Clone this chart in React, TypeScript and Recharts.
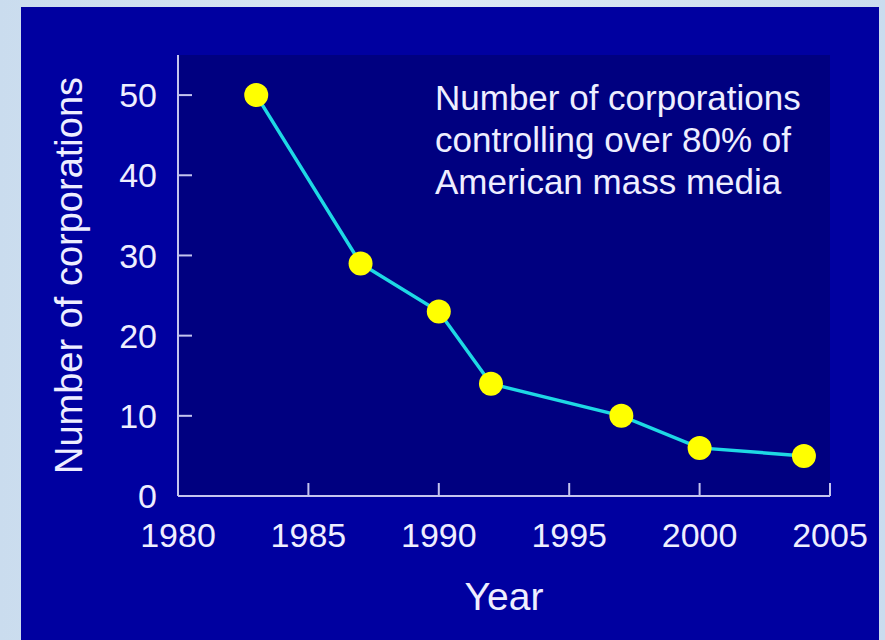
import React from 'react'
import { LineChart, Line, XAxis, YAxis, CartesianGrid } from 'recharts'

const years = [1983, 1987, 1990, 1992, 1997, 2000, 2004]
const corporations = [50, 29, 23, 14, 10, 6, 5]
const xTicks = [1980, 1985, 1990, 1995, 2000, 2005]
const yTicks = [0, 10, 20, 30, 40, 50]
const noteLines = [
  'Number of corporations',
  'controlling over 80% of',
  'American mass media',
]

const data = years.map((year, i) => ({ year, count: corporations[i] }))

const font = '"Liberation Sans", Arial, sans-serif'
const textColor = '#eeeeff'
const axisColor = '#c4c4ee'

export default function App() {
  return (
    <div
      style={{
        position: 'absolute',
        left: 0,
        top: 0,
        width: 885,
        height: 640,
        overflow: 'hidden',
        background: 'linear-gradient(90deg, #cadcee 0%, #dde9f5 50%, #cadcee 100%)',
        fontFamily: font,
      }}
    >
      <div
        style={{
          position: 'absolute',
          left: 21,
          top: 7,
          width: 858,
          height: 633,
          background: '#0000a0',
        }}
      />
      <div style={{ position: 'absolute', left: 0, top: 0 }}>
        <LineChart
          width={885}
          height={640}
          data={data}
          margin={{ top: 55, right: 55, left: 48, bottom: 20 }}
          style={{ fontFamily: font }}
        >
          <CartesianGrid fill="#000080" horizontal={false} vertical={false} />
          <XAxis
            dataKey="year"
            type="number"
            domain={[1980, 2005]}
            ticks={xTicks}
            height={124}
            tickSize={-13}
            tickMargin={40}
            stroke={axisColor}
            strokeWidth={2}
            tick={{ fill: textColor, fontSize: 34 }}
            label={{
              value: 'Year',
              position: 'insideBottom',
              offset: 10,
              fill: textColor,
              fontSize: 39,
            }}
          />
          <YAxis
            type="number"
            domain={[0, 55]}
            ticks={yTicks}
            width={130}
            tickSize={-14}
            tickMargin={35}
            stroke={axisColor}
            strokeWidth={2}
            tick={{ fill: textColor, fontSize: 34 }}
            label={{
              value: 'Number of corporations',
              angle: -90,
              position: 'insideLeft',
              offset: 21,
              fill: textColor,
              fontSize: 38,
              style: { textAnchor: 'middle' },
            }}
          />
          <Line
            type="linear"
            dataKey="count"
            stroke="#1ed8e4"
            strokeWidth={3.5}
            dot={{ r: 12, fill: '#ffff00', stroke: 'none' }}
            activeDot={false}
            isAnimationActive={false}
          />
        </LineChart>
      </div>
      <div
        style={{
          position: 'absolute',
          left: 435,
          top: 77,
          fontSize: 35,
          lineHeight: '42px',
          color: textColor,
          whiteSpace: 'nowrap',
        }}
      >
        {noteLines.map((line) => (
          <div key={line}>{line}</div>
        ))}
      </div>
    </div>
  )
}
